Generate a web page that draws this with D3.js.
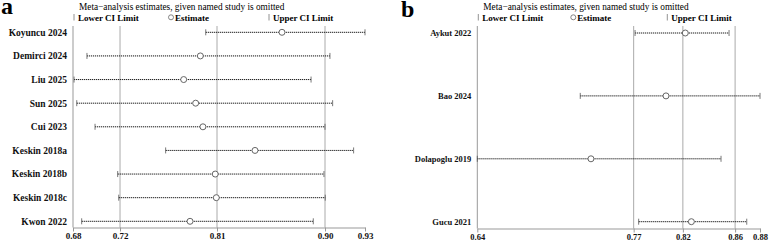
<!DOCTYPE html>
<html>
<head>
<meta charset="utf-8">
<script src="https://cdn.jsdelivr.net/npm/d3@7"></script>
<style>
  body { margin: 0; background: #fff; }
  svg { display: block; font-family: "Liberation Serif", "Times New Roman", serif; }
</style>
</head>
<body>
<script>
// panel a
const studiesA = ["Koyuncu 2024", "Demirci 2024", "Liu 2025", "Sun 2025", "Cui 2023",
                  "Keskin 2018a", "Keskin 2018b", "Keskin 2018c", "Kwon 2022"];
const lowerA = [0.7962, 0.6949, 0.6839, 0.6862, 0.7018, 0.7620, 0.7211, 0.7220, 0.6904];
const estA   = [0.8612, 0.7916, 0.7774, 0.7876, 0.7938, 0.8382, 0.8043, 0.8052, 0.7828];
const upperA = [0.9320, 0.9021, 0.8860, 0.9044, 0.8979, 0.9223, 0.8970, 0.8981, 0.8879];
const ticksA = [0.683, 0.7231, 0.8058, 0.8979, 0.932];
const tickLabelsA = ["0.68", "0.72", "0.81", "0.90", "0.93"];

// panel b
const studiesB = ["Aykut 2022", "Bao 2024", "Dolapoglu 2019", "Gucu 2021"];
const lowerB = [0.7766, 0.7295, 0.6410, 0.7797];
const estB   = [0.8198, 0.8032, 0.7387, 0.8250];
const upperB = [0.8574, 0.8840, 0.8505, 0.8726];
const ticksB = [0.641, 0.7754, 0.8177, 0.8626, 0.884];
const tickLabelsB = ["0.64", "0.77", "0.82", "0.86", "0.88"];

const svg = d3.select("body").append("svg")
    .attr("width", 770)
    .attr("height", 242);

function drawPanel(opt) {
    const g = svg.append("g");
    const x = d3.scaleLinear()
        .domain([opt.ticks[0], opt.ticks[opt.ticks.length - 1]])
        .range([opt.left, opt.right]);
    const y = d3.scalePoint()
        .domain(opt.names)
        .range([opt.firstRow, opt.lastRow]);

    // panel letter
    g.append("text")
        .attr("x", opt.letterX).attr("y", opt.letterY)
        .attr("font-size", 24).attr("font-weight", "bold")
        .text(opt.letter);

    // title and legend
    g.append("text")
        .attr("x", opt.left + 6).attr("y", 10)
        .attr("font-size", 9.3)
        .text("Meta\u2212analysis estimates, given named study is omitted");
    const leg = [
        { dx: 1, sym: "bar", label: "Lower CI Limit" },
        { dx: opt.legEst, sym: "circle", label: "Estimate" },
        { dx: opt.legUp, sym: "bar", label: "Upper CI Limit" }
    ];
    leg.forEach(function(d) {
        const lx = opt.left + d.dx;
        if (d.sym === "bar") {
            g.append("line")
                .attr("x1", lx).attr("x2", lx).attr("y1", 14).attr("y2", 20.5)
                .attr("stroke", "#777").attr("stroke-width", 0.8);
        } else {
            g.append("circle")
                .attr("cx", lx).attr("cy", 17.3).attr("r", 2.5)
                .attr("fill", "none").attr("stroke", "#666").attr("stroke-width", 0.8);
        }
        g.append("text")
            .attr("x", lx + 4).attr("y", 20.8)
            .attr("font-size", 9)
            .attr("font-weight", "bold")
            .text(d.label);
    });

    // y axis line
    g.append("line")
        .attr("x1", opt.left).attr("x2", opt.left)
        .attr("y1", opt.top).attr("y2", opt.axisY)
        .attr("stroke", "#999").attr("stroke-width", 1);

    // reference lines (overall lower, estimate, upper)
    g.selectAll("line.ref")
        .data(opt.ticks.slice(1, 4))
        .enter().append("line")
        .attr("class", "ref")
        .attr("x1", d => x(d)).attr("x2", d => x(d))
        .attr("y1", opt.top).attr("y2", opt.axisY)
        .attr("stroke", "#aaa").attr("stroke-width", 1);

    // x axis
    const axis = d3.axisBottom(x)
        .tickValues(opt.ticks)
        .tickFormat((d, i) => opt.tickLabels[i])
        .tickSize(4)
        .tickSizeOuter(0);
    const ax = g.append("g")
        .attr("transform", `translate(0,${opt.axisY})`)
        .call(axis);
    ax.select(".domain").attr("stroke", "#999");
    ax.selectAll(".tick line").attr("stroke", "#999");
    ax.selectAll(".tick text")
        .attr("fill", "#111")
        .attr("dy", "0.5em")
        .attr("font-size", opt.tickSize2)
        .attr("font-weight", "bold")
        .attr("font-family", "Liberation Serif, serif");

    // study labels
    g.selectAll("text.study")
        .data(opt.names)
        .enter().append("text")
        .attr("class", "study")
        .attr("x", opt.left - 6)
        .attr("y", d => y(d))
        .attr("dy", "0.35em")
        .attr("text-anchor", "end")
        .attr("font-size", opt.labelSize)
        .attr("font-weight", "bold")
        .attr("fill", "#111")
        .text(d => d);

    const rows = opt.names.map((n, i) => ({ name: n, lo: opt.lower[i], est: opt.est[i], hi: opt.upper[i] }));

    // CI lines
    g.selectAll("line.ci")
        .data(rows)
        .enter().append("line")
        .attr("class", "ci")
        .attr("x1", d => x(d.lo)).attr("x2", d => x(d.hi))
        .attr("y1", d => y(d.name)).attr("y2", d => y(d.name))
        .attr("stroke", "#111").attr("stroke-width", 1)
        .attr("stroke-dasharray", "1.2,0.8");

    // end caps
    ["lo", "hi"].forEach(function(k) {
        g.selectAll("line.cap-" + k)
            .data(rows)
            .enter().append("line")
            .attr("class", "cap-" + k)
            .attr("x1", d => x(d[k])).attr("x2", d => x(d[k]))
            .attr("y1", d => y(d.name) - 3).attr("y2", d => y(d.name) + 3)
            .attr("stroke", "#555").attr("stroke-width", 0.8);
    });

    // estimates
    g.selectAll("circle.est")
        .data(rows)
        .enter().append("circle")
        .attr("class", "est")
        .attr("cx", d => x(d.est))
        .attr("cy", d => y(d.name))
        .attr("r", 3)
        .attr("fill", "#fff")
        .attr("stroke", "#666")
        .attr("stroke-width", 1);
}

drawPanel({
    letter: "a", letterX: 1, letterY: 14,
    names: studiesA, lower: lowerA, est: estA, upper: upperA,
    ticks: ticksA, tickLabels: tickLabelsA,
    left: 73, right: 365, top: 26, axisY: 227.5,
    firstRow: 32.3, lastRow: 221.3,
    legEst: 98, legUp: 196,
    labelSize: 9.5, tickSize2: 9
});

drawPanel({
    letter: "b", letterX: 401, letterY: 17,
    names: studiesB, lower: lowerB, est: estB, upper: upperB,
    ticks: ticksB, tickLabels: tickLabelsB,
    left: 477.3, right: 760, top: 26, axisY: 228.5,
    firstRow: 33, lastRow: 221.7,
    legEst: 96, legUp: 190,
    labelSize: 8.5, tickSize2: 8.5
});
</script>
</body>
</html>
